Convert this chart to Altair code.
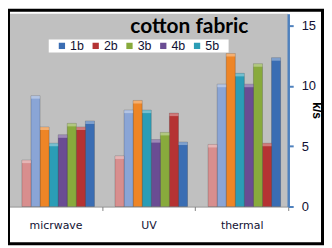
import altair as alt
import pandas as pd

categories = ["micrwave", "UV", "thermal"]
series = ["1b", "2b", "3b", "4b", "5b", "6b", "7b", "8b"]
v1b = [7.1, 5.35, 12.35]
v2b = [6.6, 7.75, 5.25]
v3b = [6.9, 6.15, 11.85]
v4b = [5.95, 5.55, 10.15]
v5b = [5.25, 8.0, 11.05]
v6b = [6.6, 8.8, 12.7]
v7b = [9.2, 8.0, 10.15]
v8b = [3.85, 4.2, 5.15]
colors = ["#3A6DB3", "#B53333", "#88AA3C", "#6A4C93", "#2B9DB6", "#EE8526", "#8AA5D6", "#D88E8E"]
legend_entries = ["1b", "2b", "3b", "4b", "5b"]
title_text = "cotton fabric"
y_title = "k/s"
y_ticks = [0, 5, 10, 15]

vals = [v1b, v2b, v3b, v4b, v5b, v6b, v7b, v8b]
rows = []
for s, vs in zip(series, vals):
    for c, v in zip(categories, vs):
        rows.append({"category": c, "series": s, "value": v})
df = pd.DataFrame(rows)
bar_order = series[::-1]

navy = "#111133"

x_enc = alt.X("category:N", sort=categories,
              scale=alt.Scale(paddingInner=0, paddingOuter=0),
              axis=alt.Axis(title=None, labelAngle=0, tickBand="extent",
                            domainColor="#808080", tickColor="#808080", tickSize=4,
                            labelFont="DejaVu Sans", labelFontSize=11, labelColor=navy,
                            labelPadding=9))
xo_enc = alt.XOffset("series:N", sort=bar_order,
                     scale=alt.Scale(range=[13, 86], paddingInner=0, paddingOuter=0))

base = alt.Chart(df)
bars = base.mark_bar(stroke="black", strokeOpacity=0.18, strokeWidth=1).encode(
    x=x_enc,
    xOffset=xo_enc,
    y=alt.Y("value:Q", scale=alt.Scale(domain=[0, 15]),
            axis=alt.Axis(orient="right", values=y_ticks, grid=False,
                          domainColor="#4F81BD", domainWidth=2.5,
                          tickColor="#4F81BD", tickWidth=2, tickSize=5,
                          labelFont="Liberation Sans Narrow, Liberation Sans", labelFontSize=13,
                          labelColor=navy, labelPadding=8,
                          title=y_title, titleFont="Liberation Sans", titleFontSize=12,
                          titleFontWeight="bold", titleColor="black", titleAngle=90,
                          titleX=28, titleY=97, titleAlign="center", titleBaseline="middle")),
    color=alt.Color("series:N", scale=alt.Scale(domain=series, range=colors),
                    legend=alt.Legend(values=legend_entries, orient="none", legendX=47, legendY=26,
                                      direction="horizontal", title=None, symbolType="square",
                                      symbolSize=40, symbolStrokeWidth=0, labelFontSize=12.5,
                                      labelFont="Liberation Sans", labelColor=navy,
                                      columnPadding=5, labelOffset=2, padding=0)),
)

tops = base.transform_calculate(low="datum.value - 0.25").mark_bar(color="white", opacity=0.35).encode(
    x=alt.X("category:N", sort=categories),
    xOffset=alt.XOffset("series:N", sort=bar_order),
    y="value:Q",
    y2="low:Q",
)

one = pd.DataFrame({"k": [0]})
legend_box = alt.Chart(one).mark_rect(fill="white").encode(
    x=alt.value(40), x2=alt.value(221), y=alt.value(26), y2=alt.value(39))
frame = alt.Chart(one).mark_rect(fill=None, stroke="black", strokeWidth=3).encode(
    x=alt.value(-0.5), x2=alt.value(315.5), y=alt.value(-3.5), y2=alt.value(231.5))

chart = alt.layer(bars, tops, legend_box, frame).properties(
    width=281, height=194,
    autosize=alt.AutoSizeParams(type="none"),
    padding={"left": 1, "top": 5, "right": 36, "bottom": 39},
    title=alt.TitleParams(title_text, font="Lato", fontSize=21, fontWeight="bold", color="black",
                          anchor="middle", dx=41, dy=32),
).configure_view(fill="#C0C0C0", strokeWidth=0)

chart.save("out.html", embed_options={"renderer": "svg", "actions": False})
